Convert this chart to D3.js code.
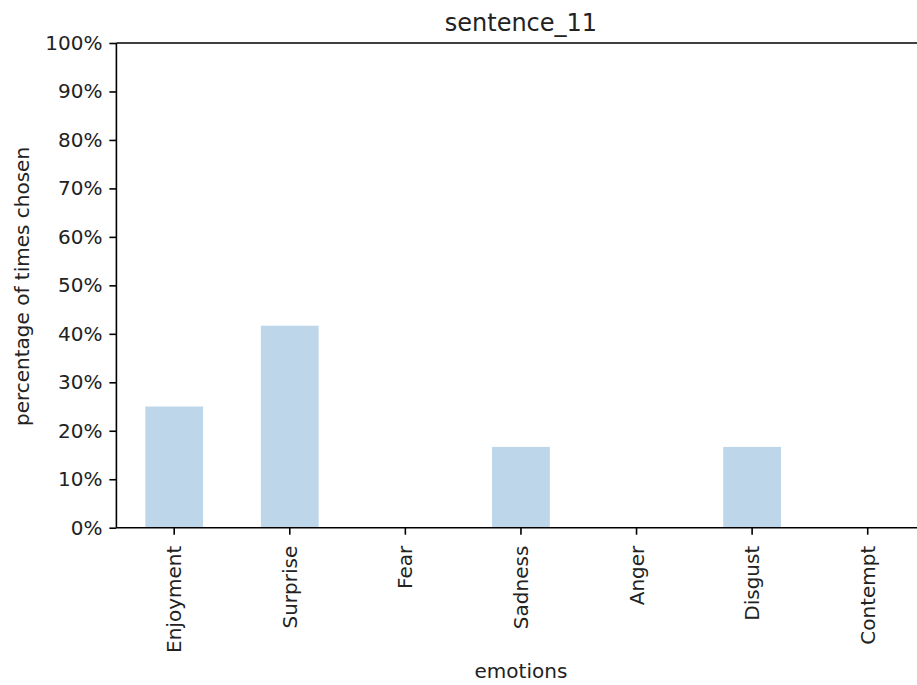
<!DOCTYPE html>
<html><head><meta charset="utf-8">
<script src="https://cdn.jsdelivr.net/npm/d3@7"></script>
<style>body{margin:0;background:#fff;}svg{display:block;font-family:"DejaVu Sans",sans-serif;}</style>
</head><body>
<svg id="c" width="917" height="685"></svg>
<script>
const categories = ["Enjoyment","Surprise","Fear","Sadness","Anger","Disgust","Contempt"];
const values = [25, 41.67, 0, 16.67, 0, 16.67, 0];
const yTicks = [0,10,20,30,40,50,60,70,80,90,100];
const title = "sentence_11";
const xLabel = "emotions";
const yLabel = "percentage of times chosen";

const svg = d3.select("#c");
const L = 116.4, R = 925.5, T = 43, B = 527.7;
const x = d3.scaleBand().domain(categories).range([L, R]).paddingInner(0.5).paddingOuter(0.25);
const y = d3.scaleLinear().domain([0,100]).range([B, T]);

svg.append("g").selectAll("rect").data(categories).join("rect")
  .attr("x", d => x(d)).attr("width", x.bandwidth())
  .attr("y", (d,i) => y(values[i])).attr("height", (d,i) => B - y(values[i]))
  .attr("fill", "#bdd6ea");

const ya = svg.append("g").attr("transform", `translate(${L},0)`)
  .call(d3.axisLeft(y).tickValues(yTicks).tickFormat(d => d + "%").tickSize(7).tickPadding(7));
const xa = svg.append("g").attr("transform", `translate(0,${B})`)
  .call(d3.axisBottom(x).tickSize(7).tickPadding(7));
[ya, xa].forEach(a => {
  a.select(".domain").remove();
  a.selectAll("line").attr("stroke", "#000").attr("stroke-width", 1.6);
  a.selectAll("text").attr("fill", "#222").style("font-size", "20px").style("font-family", "DejaVu Sans");
});
xa.selectAll("text").attr("transform", "rotate(-90)").attr("text-anchor", "end")
  .attr("x", -18).attr("y", 0).attr("dy", "0.35em");

// spines
const sp = svg.append("g").attr("stroke", "#000").attr("stroke-width", 1.6).attr("fill", "none");
sp.append("line").attr("x1", L).attr("x2", L).attr("y1", T).attr("y2", B);
sp.append("line").attr("x1", L).attr("x2", R).attr("y1", B).attr("y2", B);
sp.append("line").attr("x1", L).attr("x2", R).attr("y1", T).attr("y2", T);
sp.append("line").attr("x1", R).attr("x2", R).attr("y1", T).attr("y2", B);

svg.append("text").attr("x", (L+R)/2).attr("y", 31).attr("text-anchor", "middle")
  .style("font-size", "24px").attr("fill", "#222").text(title);
svg.append("text").attr("x", (L+R)/2).attr("y", 678).attr("text-anchor", "middle")
  .style("font-size", "20px").attr("fill", "#222").text(xLabel);
svg.append("text").attr("transform", `translate(29,286.5) rotate(-90)`).attr("text-anchor", "middle")
  .style("font-size", "20px").attr("fill", "#222").text(yLabel);
</script>
</body></html>
